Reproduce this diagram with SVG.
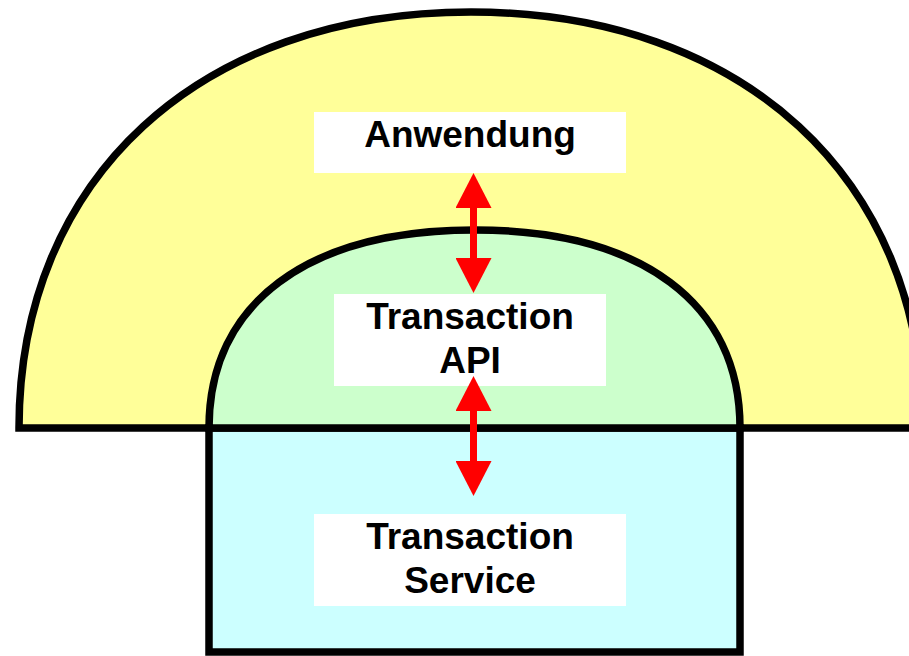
<svg xmlns="http://www.w3.org/2000/svg" width="909" height="656" viewBox="0 0 909 656">
  <style>
    .shape { stroke: #000000; stroke-width: 7.5; stroke-linejoin: miter; }
    .box { fill: #FFFFFF; stroke: none; }
    .label { font-family: "Liberation Sans", Arial, sans-serif; font-weight: bold; font-size: 37px; fill: #000000; text-anchor: middle; }
    .arrow { stroke: #FF0000; stroke-width: 7; fill: none; marker-start: url(#head); marker-end: url(#head); }
  </style>
  <defs>
    <marker id="head" viewBox="0 0 35 36" refX="0" refY="18" markerWidth="35" markerHeight="36" markerUnits="userSpaceOnUse" orient="auto-start-reverse">
      <path d="M0,0 L35,18 L0,36 Z" fill="#FF0000"/>
    </marker>
  </defs>
  <rect x="0" y="0" width="909" height="656" fill="#FFFFFF"/>
  <g id="anwendung">
    <path class="shape" fill="#FFFF99" d="M19,428 C19,178 199.8,12 471,12 C742.2,12 923,178 923,428 Z"/>
    <rect class="box" x="314" y="112" width="312" height="61"/>
    <text class="label" x="470" y="147">Anwendung</text>
  </g>
  <g id="transaction-service">
    <rect class="shape" fill="#CCFFFF" x="209" y="428" width="531" height="224"/>
    <rect class="box" x="314" y="514" width="312" height="92"/>
    <text class="label" x="470" y="549">Transaction</text>
    <text class="label" x="470" y="593">Service</text>
  </g>
  <g id="transaction-api">
    <path class="shape" fill="#CCFFCC" d="M209,428 C209,303.3 307.2,230 474.5,230 C641.8,230 740,303.3 740,428 Z"/>
    <rect class="box" x="334" y="294" width="272" height="92"/>
    <text class="label" x="470" y="329">Transaction</text>
    <text class="label" x="470" y="373">API</text>
  </g>
  <g id="connectors">
    <line class="arrow" x1="473.5" y1="208" x2="473.5" y2="258"/>
    <line class="arrow" x1="473.5" y1="411" x2="473.5" y2="461"/>
  </g>
</svg>
